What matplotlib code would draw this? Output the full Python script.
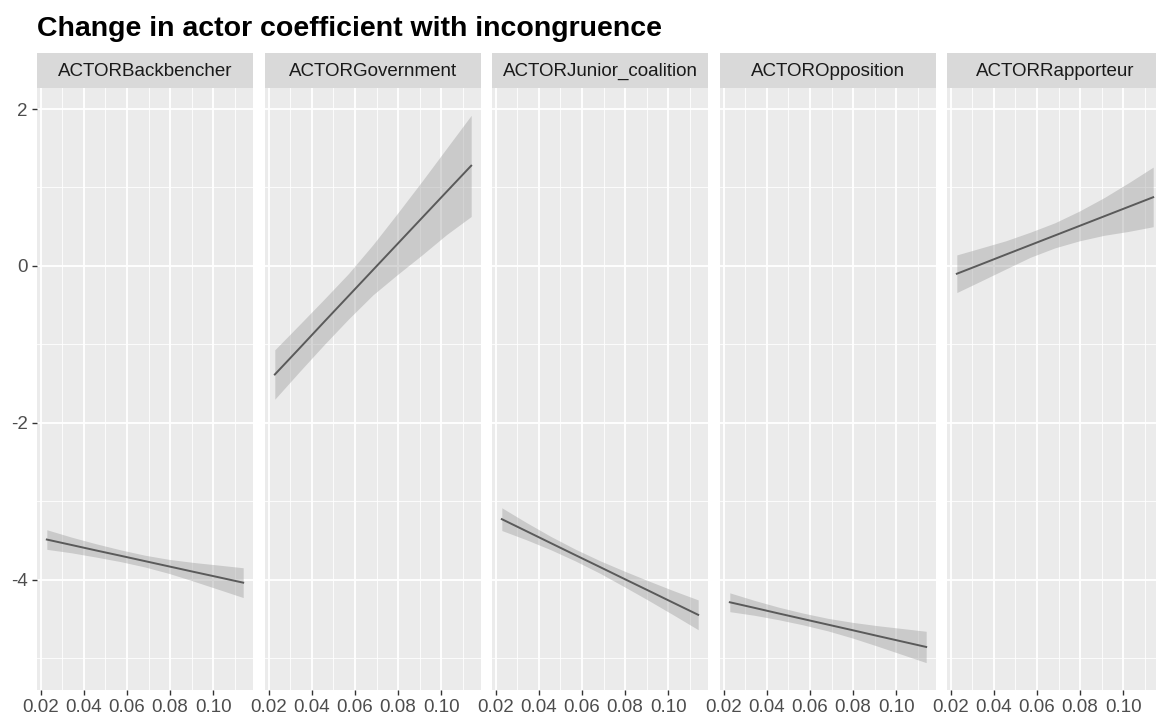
import matplotlib
matplotlib.use("Agg")
import matplotlib.pyplot as plt
from matplotlib.ticker import MultipleLocator

# data
actors = ["ACTORBackbencher", "ACTORGovernment", "ACTORJunior_coalition",
          "ACTOROpposition", "ACTORRapporteur"]
incongruence = [0.0228, 0.0342, 0.0455, 0.0569, 0.0683, 0.0797, 0.0911, 0.1025, 0.1139]

fit = {
    "ACTORBackbencher": [-3.490, -3.559, -3.628, -3.696, -3.765, -3.834, -3.903, -3.971, -4.040],
    "ACTORGovernment": [-1.385, -1.052, -0.719, -0.386, -0.053, 0.280, 0.613, 0.946, 1.278],
    "ACTORJunior_coalition": [-3.230, -3.383, -3.535, -3.688, -3.840, -3.993, -4.145, -4.298, -4.450],
    "ACTOROpposition": [-4.290, -4.361, -4.433, -4.504, -4.575, -4.646, -4.718, -4.789, -4.860],
    "ACTORRapporteur": [-0.100, 0.022, 0.144, 0.266, 0.388, 0.510, 0.632, 0.754, 0.876],
}
upper = {
    "ACTORBackbencher": [-3.365, -3.459, -3.543, -3.621, -3.690, -3.744, -3.783, -3.816, -3.850],
    "ACTORGovernment": [-1.07, -0.75, -0.43, -0.10, 0.27, 0.67, 1.08, 1.50, 1.92],
    "ACTORJunior_coalition": [-3.085, -3.273, -3.450, -3.613, -3.760, -3.893, -4.020, -4.143, -4.260],
    "ACTOROpposition": [-4.170, -4.266, -4.353, -4.429, -4.495, -4.546, -4.588, -4.624, -4.660],
    "ACTORRapporteur": [0.14, 0.23, 0.32, 0.43, 0.55, 0.70, 0.87, 1.06, 1.26],
}
lower = {
    "ACTORBackbencher": [-3.615, -3.659, -3.713, -3.771, -3.840, -3.924, -4.023, -4.126, -4.230],
    "ACTORGovernment": [-1.70, -1.35, -1.01, -0.68, -0.37, -0.11, 0.14, 0.40, 0.63],
    "ACTORJunior_coalition": [-3.375, -3.493, -3.620, -3.763, -3.920, -4.093, -4.270, -4.453, -4.640],
    "ACTOROpposition": [-4.410, -4.456, -4.513, -4.579, -4.655, -4.746, -4.848, -4.954, -5.060],
    "ACTORRapporteur": [-0.34, -0.19, -0.04, 0.11, 0.23, 0.32, 0.39, 0.44, 0.50],
}

x_ticks = [0.02, 0.04, 0.06, 0.08, 0.10]
x_labels = ["0.02", "0.04", "0.06", "0.08", "0.10"]
y_ticks = [-4, -2, 0, 2]

plt.rcParams['font.family'] = ['Liberation Sans', 'DejaVu Sans']
plt.rcParams['axes.unicode_minus'] = False

W, H = 1156, 717
fig = plt.figure(figsize=(W / 100, H / 100), dpi=100)

panel_left = [37, 265, 492, 720, 947]
panel_w = 216
panel_top, panel_bot = 88, 690
strip_top = 53

xpad = (incongruence[-1] - incongruence[0]) * 0.05
ymin = min(min(v) for v in lower.values())
ymax = max(max(v) for v in upper.values())
ypad = (ymax - ymin) * 0.05

for i, name in enumerate(actors):
    l = panel_left[i]
    ax = fig.add_axes([l / W, 1 - panel_bot / H, panel_w / W, (panel_bot - panel_top) / H])
    ax.set_facecolor('#EBEBEB')
    ax.fill_between(incongruence, lower[name], upper[name], color='#999999', alpha=0.4, lw=0)
    ax.plot(incongruence, fit[name], color='#5a5a5a', lw=1.4)
    ax.set_xlim(incongruence[0] - xpad, incongruence[-1] + xpad)
    ax.set_ylim(ymin - ypad, ymax + ypad)
    ax.set_xticks(x_ticks)
    ax.set_xticklabels(x_labels)
    ax.set_yticks(y_ticks)
    ax.xaxis.set_minor_locator(MultipleLocator(0.01))
    ax.yaxis.set_minor_locator(MultipleLocator(1))
    ax.grid(which='major', color='white', lw=1.3)
    ax.grid(which='minor', color='white', lw=0.6)
    ax.set_axisbelow(True)
    for s in ax.spines.values():
        s.set_visible(False)
    ax.tick_params(which='major', length=3.5, width=1.0, color='#333333',
                   labelcolor='#4D4D4D', labelsize=13.5, pad=3)
    ax.tick_params(which='minor', length=0)
    if i > 0:
        ax.tick_params(axis='y', which='both', left=False, labelleft=False)

    sax = fig.add_axes([l / W, 1 - panel_top / H, panel_w / W, (panel_top - strip_top) / H])
    sax.set_facecolor('#D9D9D9')
    sax.set_xticks([])
    sax.set_yticks([])
    for s in sax.spines.values():
        s.set_visible(False)
    sax.text(0.5, 0.47, name, ha='center', va='center', fontsize=13.5,
             color='#1A1A1A', transform=sax.transAxes)

fig.text(37 / W, 1 - 36 / H, "Change in actor coefficient with incongruence",
         fontsize=20.5, fontweight='bold', color='black', ha='left', va='baseline')

fig.savefig("out.png", dpi=100)
